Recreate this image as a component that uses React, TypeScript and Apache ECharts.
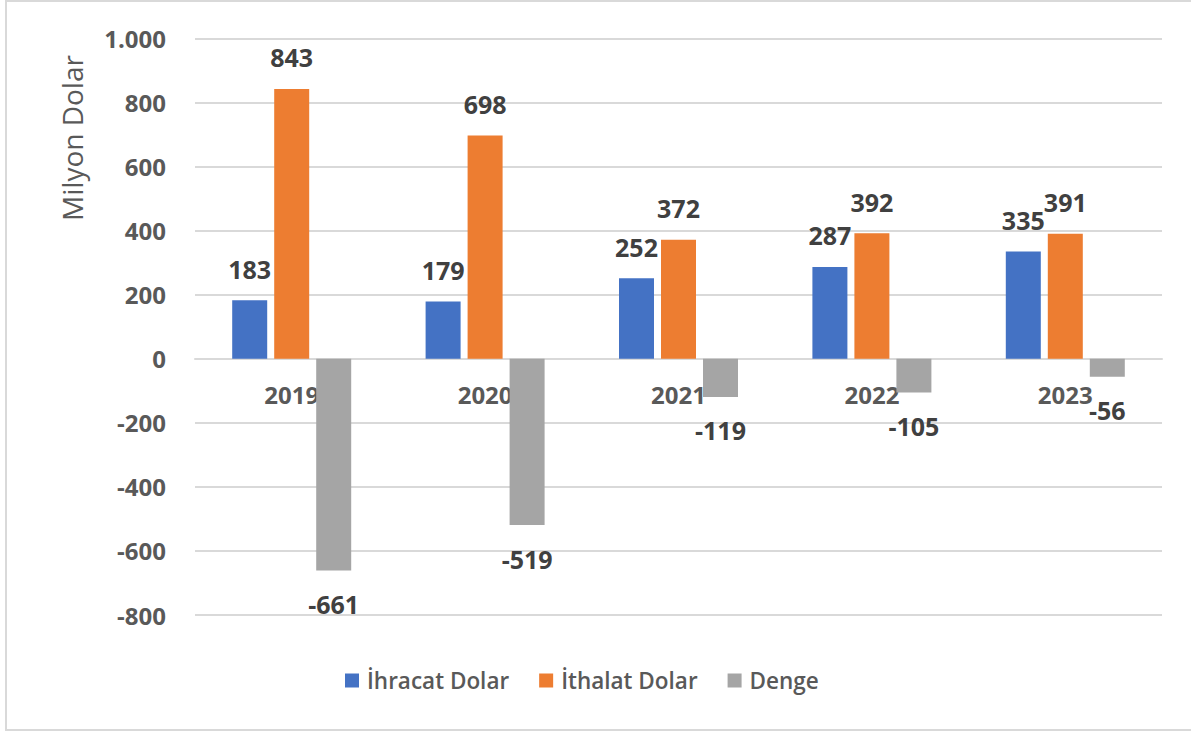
import React, { useEffect, useRef } from "react";
import * as echarts from "echarts";

const categories = ["2019", "2020", "2021", "2022", "2023"];
const ihracat = [183, 179, 252, 287, 335];
const ithalat = [843, 698, 372, 392, 391];
const denge = [-661, -519, -119, -105, -56];
const seriesNames = ["İhracat Dolar", "İthalat Dolar", "Denge"];
const yTicks = { min: -800, max: 1000, interval: 200 };
const yAxisTitle = "Milyon Dolar";

const FONT = "'Open Sans', 'Noto Sans', sans-serif";

export default function App() {
  const ref = useRef<HTMLDivElement>(null);
  useEffect(() => {
    if (!ref.current) return;
    const chart = echarts.init(ref.current, undefined, { renderer: "svg" });
    const labelStyle = {
      show: true,
      fontFamily: FONT,
      fontSize: 25,
      fontWeight: "bold" as const,
      color: "#404040",
    };
    chart.setOption({
      animation: false,
      backgroundColor: "#ffffff",
      textStyle: { fontFamily: FONT },
      grid: { left: 195, right: 29, top: 38.7, bottom: 119, containLabel: false },
      legend: {
        bottom: 37,
        left: 340,
        itemWidth: 14,
        itemHeight: 14,
        itemGap: 30,
        icon: "rect",
        textStyle: { fontFamily: FONT, fontSize: 22.5, fontWeight: 600, color: "#595959", padding: [0, 0, 0, 3] },
        data: seriesNames,
      },
      graphic: [
        {
          type: "rect",
          shape: { x: 6, y: 1, width: 1190, height: 729 },
          style: { fill: "none", stroke: "#d9d9d9", lineWidth: 2 },
          silent: true,
        },
        {
          type: "text",
          x: 72,
          y: 138,
          rotation: Math.PI / 2,
          style: {
            text: yAxisTitle,
            fontFamily: FONT,
            fontSize: 28,
            fill: "#595959",
            align: "center",
            verticalAlign: "middle",
          },
        },
      ],
      xAxis: {
        type: "category",
        data: categories,
        axisLine: { onZero: true, lineStyle: { color: "#d9d9d9", width: 2 } },
        axisTick: { show: false },
        axisLabel: {
          margin: -233,
          fontFamily: FONT,
          fontSize: 24,
          fontWeight: "bold",
          color: "#595959",
        },
      },
      yAxis: {
        type: "value",
        min: yTicks.min,
        max: yTicks.max,
        interval: yTicks.interval,
        axisLine: { show: false },
        axisTick: { show: false },
        splitLine: { lineStyle: { color: "#d9d9d9", width: 2 } },
        axisLabel: {
          margin: 29,
          fontFamily: FONT,
          fontSize: 24,
          fontWeight: "bold",
          color: "#595959",
          formatter: (v: number) => v.toLocaleString("de-DE"),
        },
      },
      series: [
        {
          name: seriesNames[0],
          type: "bar",
          data: ihracat,
          barWidth: 35,
          barGap: "20%",
          itemStyle: { color: "#4472c4" },
          label: { ...labelStyle, position: "top", distance: 19 },
        },
        {
          name: seriesNames[1],
          type: "bar",
          data: ithalat,
          barWidth: 35,
          barGap: "20%",
          itemStyle: { color: "#ed7d31" },
          label: { ...labelStyle, position: "top", distance: 19 },
        },
        {
          name: seriesNames[2],
          type: "bar",
          data: denge,
          barWidth: 35,
          barGap: "20%",
          itemStyle: { color: "#a5a5a5" },
          label: { ...labelStyle, position: "bottom", distance: 21 },
        },
      ],
    });
    return () => chart.dispose();
  }, []);
  return (
    <div
      ref={ref}
      style={{ position: "absolute", left: 0, top: 0, width: 1191, height: 734 }}
    />
  );
}
